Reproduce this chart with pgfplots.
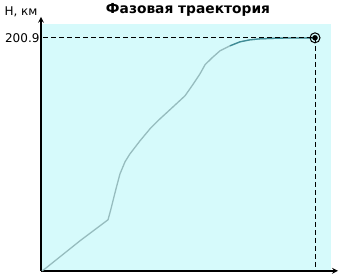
\documentclass[border=0pt]{standalone}
\usepackage{fontspec}
\setmainfont{DejaVu Sans}
\usepackage{pgfplots}
\pgfplotsset{compat=1.18}
\definecolor{bgcyan}{RGB}{214,250,251}
\definecolor{trackgray}{RGB}{150,188,190}
\definecolor{trackteal}{RGB}{40,128,140}
\begin{document}
\begin{tikzpicture}
\begin{axis}[
  scale only axis,
  width=290pt, height=247pt,
  xmin=0, xmax=290, ymin=0, ymax=213,
  axis lines=left,
  axis line style={line width=1.6pt},
  every outer x axis line/.append style={-stealth, shorten >=-7pt},
  every outer y axis line/.append style={-stealth, shorten >=-7pt},
  axis background/.style={fill=bgcyan},
  xtick=\empty,
  ytick={200.9},
  yticklabels={200.9},
  major tick length=0pt,
  yticklabel style={font=\fontsize{12}{13}\selectfont, xshift=2pt},
  clip=false,
]
% trajectory H(x)
\addplot[trackgray, line width=1.3pt] coordinates {
(1,0) (4,1.72) (19,12.07) (39,25.87) (67,43.97) (70,53.46) (75,70.70)
(79,83.63) (84,93.98) (89,100.88) (99,112.09) (109,122.43) (119,131.05)
(131,140.54) (144,150.89) (151,159.51) (159,169.86) (164,177.62)
(171,183.65) (179,189.69) (189,194.00) (199,197.45) (209,199.17)
(219,200.04) (239,200.64) (274,200.9)
};
% upper, denser part of the trajectory
\addplot[trackteal, line width=1.3pt, opacity=0.8] coordinates {
(189,194.00) (199,197.45) (209,199.17) (219,200.04) (239,200.64) (274,200.9)
};
% guide lines to the final point
\addplot[black, line width=1pt, dash pattern=on 5pt off 3pt] coordinates {(2,200.9) (274,200.9)};
\addplot[black, line width=1pt, dash pattern=on 5pt off 3pt] coordinates {(274,200.9) (274,0)};
% final point
\addplot[only marks, mark=o, mark size=5pt, mark options={black, line width=1pt}] coordinates {(274,200.9)};
\addplot[only marks, mark=*, mark size=2.5pt, mark options={black}] coordinates {(274,200.9)};
\coordinate (O) at (axis cs:0,0);
\end{axis}
\node[font=\bfseries\fontsize{13.8}{15}\selectfont] at ([shift={(147pt,261pt)}]O) {Фазовая траектория};
\node[font=\fontsize{12}{13}\selectfont, anchor=east] at ([shift={(0pt,259pt)}]O) {H, км};
\path ([shift={(-41pt,-4pt)}]O) rectangle ([shift={(298pt,270pt)}]O);
\end{tikzpicture}
\end{document}
